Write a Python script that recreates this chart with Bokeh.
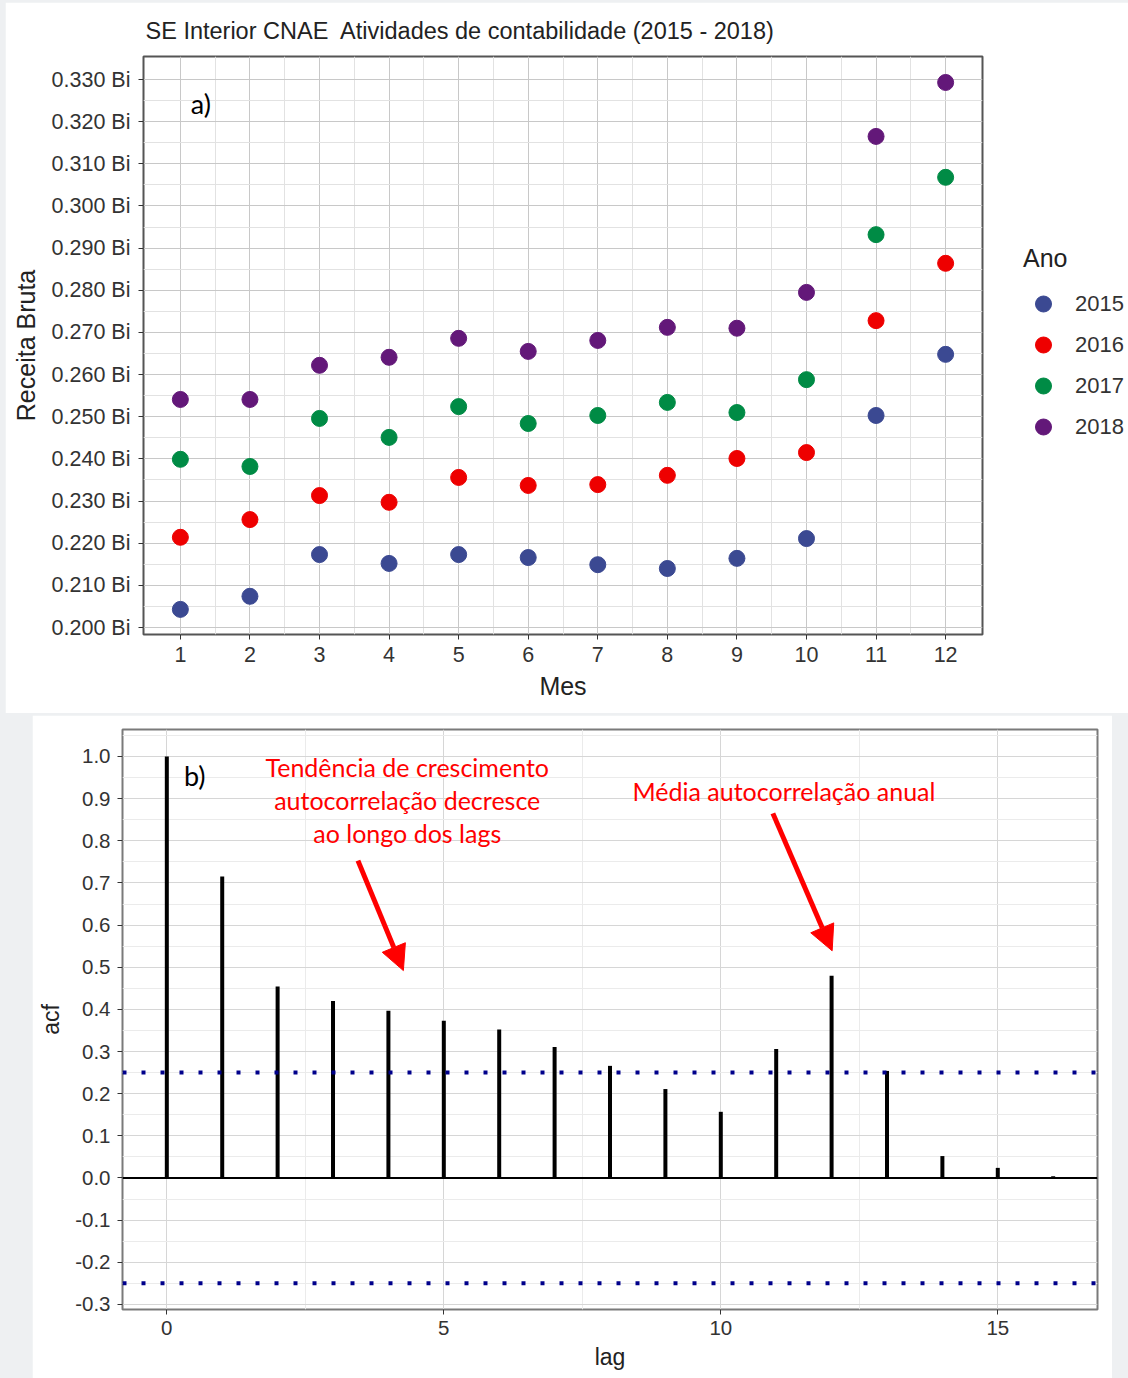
from bokeh.plotting import figure
from bokeh.models import (FixedTicker, PrintfTickFormatter, Legend, LegendItem,
                          Span, Arrow, NormalHead, Label, Range1d)
from bokeh.embed import file_html
from bokeh.resources import INLINE

# ---------------- data: panel a) ----------------
months = [1, 2, 3, 4, 5, 6, 7, 8, 9, 10, 11, 12]
years = ["2015", "2016", "2017", "2018"]
receita_2015 = [0.2043, 0.2074, 0.2173, 0.2152, 0.2173, 0.2166, 0.2149, 0.2140, 0.2164, 0.2211, 0.2503, 0.2648]
receita_2016 = [0.2214, 0.2256, 0.2313, 0.2297, 0.2356, 0.2337, 0.2339, 0.2361, 0.2401, 0.2415, 0.2728, 0.2864]
receita_2017 = [0.2399, 0.2382, 0.2496, 0.2451, 0.2524, 0.2484, 0.2503, 0.2534, 0.2510, 0.2588, 0.2932, 0.3068]
receita_2018 = [0.2541, 0.2541, 0.2622, 0.2641, 0.2686, 0.2655, 0.2681, 0.2712, 0.2710, 0.2795, 0.3165, 0.3293]
year_colors = ["#3B4992", "#EE0000", "#008B45", "#631879"]
y_ticks_a = [0.200, 0.210, 0.220, 0.230, 0.240, 0.250, 0.260, 0.270, 0.280, 0.290, 0.300, 0.310, 0.320, 0.330]

# ---------------- data: panel b) ----------------
lags = [0, 1, 2, 3, 4, 5, 6, 7, 8, 9, 10, 11, 12, 13, 14, 15, 16]
acf_values = [1.0, 0.715, 0.454, 0.420, 0.397, 0.373, 0.352, 0.311, 0.266, 0.211, 0.157,
              0.306, 0.480, 0.254, 0.052, 0.024, 0.004]
ci = 0.25
y_ticks_b = [-0.3, -0.2, -0.1, 0.0, 0.1, 0.2, 0.3, 0.4, 0.5, 0.6, 0.7, 0.8, 0.9, 1.0]
x_ticks_b = [0, 5, 10, 15]

FONT = "Liberation Sans"
NOTE_FONT = "Lato"


def style_axes(p, tick_size, label_size):
    for ax in (p.xaxis[0], p.yaxis[0]):
        ax.axis_line_color = None
        ax.major_tick_line_color = "#333333"
        ax.major_tick_out = 5
        ax.major_tick_in = 0
        ax.minor_tick_line_color = None
        ax.major_label_text_font = FONT
        ax.major_label_text_font_size = tick_size
        ax.major_label_text_color = "#333333"
        ax.axis_label_text_font = FONT
        ax.axis_label_text_font_size = label_size
        ax.axis_label_text_font_style = "normal"
        ax.axis_label_text_color = "#222222"


# ---------------- panel a ----------------
p1 = figure(frame_width=839, height=711, output_backend="svg", toolbar_location=None,
            x_range=Range1d(0.47, 12.53), y_range=Range1d(0.19834, 0.33546),
            min_border_left=138, min_border_right=146, min_border_top=54, min_border_bottom=79,
            title="SE Interior CNAE\u00a0 Atividades de contabilidade (2015 - 2018)")
p1.margin = (2, 0, 2, 5)
p1.title.text_font = FONT
p1.title.text_font_size = "23.5px"
p1.title.text_font_style = "normal"
p1.title.text_color = "#222222"
p1.title.offset = 2
p1.title.standoff = 26
p1.outline_line_color = "#555555"
p1.outline_line_width = 2

p1.xaxis.ticker = FixedTicker(ticks=months, minor_ticks=[m + 0.5 for m in months[:-1]])
p1.yaxis.ticker = FixedTicker(ticks=y_ticks_a, minor_ticks=[t + 0.005 for t in y_ticks_a[:-1]])
p1.yaxis.formatter = PrintfTickFormatter(format="%.3f Bi")
p1.xaxis.axis_label = "Mes"
p1.yaxis.axis_label = "Receita Bruta"
style_axes(p1, "21.5px", "25px")
p1.xaxis.major_label_standoff = 7
p1.yaxis.major_label_standoff = 8
p1.xaxis.axis_label_standoff = 7
p1.yaxis.axis_label_standoff = 9
p1.xgrid.grid_line_color = "#c8c8c8"
p1.ygrid.grid_line_color = "#c8c8c8"
p1.xgrid.minor_grid_line_color = "#e2e2e2"
p1.ygrid.minor_grid_line_color = "#e2e2e2"

series = [receita_2015, receita_2016, receita_2017, receita_2018]
items = []
for yr, vals, col in zip(years, series, year_colors):
    r = p1.scatter(months, vals, size=16, fill_color=col, line_color=col)
    items.append(LegendItem(label=yr, renderers=[r]))

legend = Legend(items=items, location="left", title="Ano",
                title_text_font=FONT, title_text_font_size="25px", title_text_color="#222222",
                title_text_font_style="normal", title_standoff=11,
                label_text_font=FONT, label_text_font_size="22px", label_text_color="#333333",
                glyph_width=40, glyph_height=40, label_standoff=12, spacing=1,
                padding=0, margin=41, border_line_color=None, background_fill_alpha=0)
p1.add_layout(legend, "right")

p1.add_layout(Label(x=1.15, y=0.3243, text="a)", text_font=NOTE_FONT, text_font_size="27px",
                    text_baseline="middle", text_color="black"))

# ---------------- panel b ----------------
p2 = figure(width=1080, height=663, output_backend="svg", toolbar_location=None,
            x_range=Range1d(-0.8, 16.8), y_range=Range1d(-0.312, 1.064),
            min_border_left=90, min_border_right=15, min_border_top=14, min_border_bottom=69)
p2.margin = (0, 16, 0, 32)
p2.outline_line_color = "#7a7a7a"
p2.outline_line_width = 2
p2.xaxis.ticker = FixedTicker(ticks=x_ticks_b, minor_ticks=[2.5, 7.5, 12.5])
p2.yaxis.ticker = FixedTicker(ticks=y_ticks_b, minor_ticks=[t + 0.05 for t in y_ticks_b])
p2.yaxis.formatter = PrintfTickFormatter(format="%.1f")
p2.xaxis.axis_label = "lag"
p2.yaxis.axis_label = "acf"
style_axes(p2, "20.5px", "23px")
p2.xaxis.major_label_standoff = 6
p2.yaxis.major_label_standoff = 7
p2.xaxis.axis_label_standoff = 6
p2.yaxis.axis_label_standoff = 8
p2.xgrid.grid_line_color = "#d6d6d6"
p2.ygrid.grid_line_color = "#d6d6d6"
p2.xgrid.minor_grid_line_color = "#ebebeb"
p2.ygrid.minor_grid_line_color = "#ebebeb"

p2.add_layout(Span(location=ci, dimension="width", line_color="#00008B", line_width=4, line_dash="4 15"))
p2.add_layout(Span(location=-ci, dimension="width", line_color="#00008B", line_width=4, line_dash="4 15"))
p2.add_layout(Span(location=0, dimension="width", line_color="black", line_width=2))
p2.segment(x0=lags, y0=[0] * len(lags), x1=lags, y1=acf_values, line_width=4, line_color="black")

p2.add_layout(Label(x=0.31, y=0.955, text="b)", text_font=NOTE_FONT, text_font_size="27px",
                    text_baseline="middle", text_color="black"))
note_lines = ["Tendência de crescimento", "autocorrelação decresce", "ao longo dos lags"]
for i, line in enumerate(note_lines):
    p2.add_layout(Label(x=4.34, y=0.974 - i * 0.0775, text=line, text_font=NOTE_FONT,
                        text_font_size="25px", text_align="center", text_baseline="middle",
                        text_color="#FF0000"))
p2.add_layout(Label(x=11.14, y=0.919, text="Média autocorrelação anual", text_font=NOTE_FONT,
                    text_font_size="25px", text_align="center", text_baseline="middle",
                    text_color="#FF0000"))
p2.add_layout(Arrow(x_start=3.45, y_start=0.753, x_end=4.27, y_end=0.492,
                    line_color="#FF0000", line_width=5,
                    end=NormalHead(size=25, fill_color="#FF0000", line_color="#FF0000")))
p2.add_layout(Arrow(x_start=10.94, y_start=0.865, x_end=12.01, y_end=0.539,
                    line_color="#FF0000", line_width=5,
                    end=NormalHead(size=25, fill_color="#FF0000", line_color="#FF0000")))

html = file_html([p1, p2], INLINE)
html = html.replace("</head>",
                    "<style>html, body { margin: 0; padding: 0; background-color: #eef0f2; overflow: hidden; }</style></head>", 1)
open("out.html", "w").write(html)
